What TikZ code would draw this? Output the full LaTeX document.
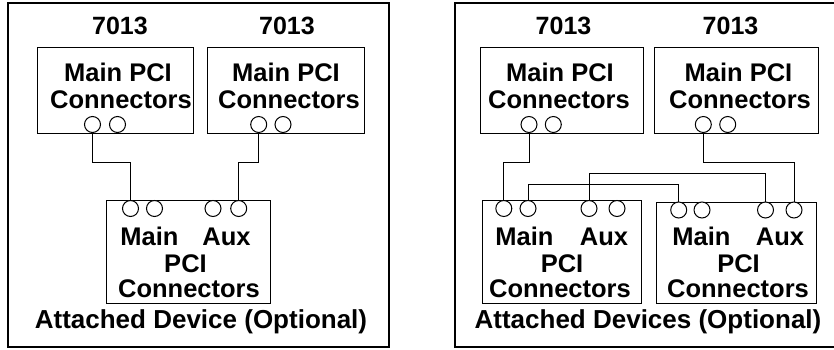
\documentclass[tikz,border=0pt]{standalone}
\usepackage{fontspec}
\setmainfont{Liberation Sans}
\begin{document}
\begin{tikzpicture}[x=1pt,y=-1pt,
  frame/.style={draw, line width=1.1pt, inner sep=0pt},
  box/.style={draw, line width=1pt, inner sep=0pt},
  port/.style={circle, draw, line width=1pt, minimum size=16pt, inner sep=0pt, fill=white},
  wire/.style={line width=1pt},
  lbl/.style={font=\fontsize{25.5}{27}\selectfont\bfseries, anchor=base, inner sep=0pt},
  num/.style={font=\fontsize{25}{26}\selectfont\bfseries, anchor=base, inner sep=0pt},
  captext/.style={font=\fontsize{26}{27}\selectfont\bfseries, anchor=base, inner sep=0pt}]
\useasboundingbox (0,0) rectangle (834,350);

% ---------- left panel ----------
\node[frame, minimum width=381pt, minimum height=344pt] (lframe) at (198.5,175) {};
\node[box, minimum width=156pt, minimum height=85pt] (lb1) at (115,90.5) {};
\node[box, minimum width=157pt, minimum height=85pt] (lb2) at (285.5,90.5) {};
\node[box, minimum width=164pt, minimum height=103pt] (ld1) at (188,251.5) {};

\node[num] (lt1) at (120,35) {7013};
\node[num] (lt2) at (287,35) {7013};
\node[lbl] (lm1) at (118,82) {Main PCI};
\node[lbl] (lc1) at (121,108) {Connectors};
\node[lbl] (lm2) at (286,82) {Main PCI};
\node[lbl] (lc2) at (289,108) {Connectors};
\node[lbl] (ldm) at (149.5,245) {Main};
\node[lbl] (lda) at (226.5,245) {Aux};
\node[lbl] (ldp) at (185.5,272.5) {PCI};
\node[lbl] (ldc) at (189,297) {Connectors};
\node[captext] (lcap) at (201,328) {Attached Device (Optional)};

\node[port] (lp1) at (92.5,124.5) {};
\node[port] (lp2) at (117.5,124.5) {};
\node[port] (lp3) at (258.7,124.5) {};
\node[port] (lp4) at (283,124.5) {};
\node[port] (lq1) at (130.5,208.5) {};
\node[port] (lq2) at (154.5,208.5) {};
\node[port] (lq3) at (213,208.5) {};
\node[port] (lq4) at (238.7,208.5) {};

\coordinate (rowA) at (0,162);
\coordinate (rowB) at (0,173);
\coordinate (rowC) at (0,184);

\draw[wire] (lp1.south) -- (lp1.south |- rowA) -| (lq1.north);
\draw[wire] (lp3.south) -- (lp3.south |- rowA) -| (lq4.north);

% ---------- right panel ----------
\node[frame, minimum width=384pt, minimum height=344pt] (rframe) at (647,175) {};
\node[box, minimum width=163pt, minimum height=85pt] (rb1) at (561.5,90.5) {};
\node[box, minimum width=164pt, minimum height=85pt] (rb2) at (736,90.5) {};
\node[box, minimum width=159pt, minimum height=102.5pt] (rd1) at (561.5,251.75) {};
\node[box, minimum width=160pt, minimum height=101pt] (rd2) at (736,252.5) {};

\node[num] (rt1) at (563.5,35) {7013};
\node[num] (rt2) at (730.5,35) {7013};
\node[lbl] (rm1) at (560,82) {Main PCI};
\node[lbl] (rc1) at (559,108) {Connectors};
\node[lbl] (rm2) at (738.5,82) {Main PCI};
\node[lbl] (rc2) at (740,108) {Connectors};
\node[lbl] (r1m) at (524.5,245) {Main};
\node[lbl] (r1a) at (604,245) {Aux};
\node[lbl] (r1p) at (562,272.5) {PCI};
\node[lbl] (r1c) at (560,297) {Connectors};
\node[lbl] (r2m) at (701.5,245) {Main};
\node[lbl] (r2a) at (780,245) {Aux};
\node[lbl] (r2p) at (738.5,272.5) {PCI};
\node[lbl] (r2c) at (738,297) {Connectors};
\node[captext] (rcap) at (648,328) {Attached Devices (Optional)};

\node[port] (rp1) at (529,124.5) {};
\node[port] (rp2) at (553.3,124.5) {};
\node[port] (rp3) at (703.3,124.5) {};
\node[port] (rp4) at (727.7,124.5) {};
\node[port] (rq1) at (503.8,208.5) {};
\node[port] (rq2) at (528,208.5) {};
\node[port] (rq3) at (589,208.5) {};
\node[port] (rq4) at (617,208.5) {};
\node[port] (rs1) at (678.7,210) {};
\node[port] (rs2) at (702,210) {};
\node[port] (rs3) at (765.5,210) {};
\node[port] (rs4) at (794,210) {};

\draw[wire] (rp1.south) -- (rp1.south |- rowA) -| (rq1.north);
\draw[wire] (rp3.south) -- (rp3.south |- rowA) -| (rs4.north);
\draw[wire] (rq3.north) -- (rq3.north |- rowB) -| (rs3.north);
\draw[wire] (rq2.north) -- (rq2.north |- rowC) -| (rs1.north);
\end{tikzpicture}
\end{document}
